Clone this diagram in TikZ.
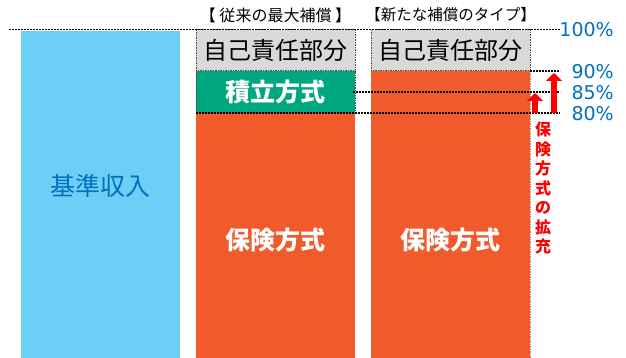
\documentclass[tikz,border=0pt]{standalone}
\usepackage{fontspec}
\setmainfont{Noto Sans CJK JP}
\newfontfamily\pctfont{DejaVu Sans}
\usetikzlibrary{arrows.meta}

\definecolor{kijunblue}{RGB}{109,207,246}
\definecolor{hokenorange}{RGB}{241,90,43}
\definecolor{tsumigreen}{RGB}{0,166,125}
\definecolor{jikogray}{RGB}{217,217,217}
\definecolor{pctblue}{RGB}{0,112,192}

\begin{document}
\begin{tikzpicture}[x=1pt,y=-1pt,
  dashline/.style={dash pattern=on 2pt off 1pt, line width=1.6pt},
  boxline/.style={dash pattern=on 1.5pt off 1pt, line width=1pt, draw=black!70},
  pct/.style={font=\pctfont\fontsize{19}{19}\selectfont, text=pctblue, anchor=east, inner sep=0pt},
  upar/.style={draw=red, -{Triangle[width=16pt,length=8pt]}}]
\useasboundingbox (0,0) rectangle (626,358);

% base income
\fill[kijunblue] (21,31) rectangle (180,358);
\node[text=pctblue, font=\fontsize{25}{25}\selectfont] (kijun) at (100,186) {基準収入};

% conventional maximum cover
\fill[hokenorange] (196,113) rectangle (355,358);
\filldraw[fill=tsumigreen, boxline] (196,71) rectangle (355,113);
\filldraw[fill=jikogray, boxline] (196,30) rectangle (355,71);
\node[font=\fontsize{24}{24}\selectfont] (jiko1) at (275.5,50.5) {自己責任部分};
\node[text=white, font=\bfseries\fontsize{25}{25}\selectfont] (tsumi) at (275.5,92) {積立方式};
\node[text=white, font=\bfseries\fontsize{25}{25}\selectfont] (hoken1) at (275.5,240) {保険方式};
\node[font=\fontsize{16}{16}\selectfont] (head1) at (275.5,15) {【 従来の最大補償 】};

% new type of cover
\fill[hokenorange] (371,71) rectangle (530,358);
\filldraw[fill=jikogray, boxline] (371,30) rectangle (530,71);
\draw[boxline, draw=black!40] (530,71) -- (530,358);
\node[font=\fontsize{24}{24}\selectfont] (jiko2) at (450.5,50.5) {自己責任部分};
\node[text=white, font=\bfseries\fontsize{25}{25}\selectfont] (hoken2) at (450.5,240) {保険方式};
\node[font=\fontsize{15.5}{15.5}\selectfont] (head2) at (450.5,15) {【新たな補償のタイプ】};

% levels
\coordinate (p100) at (560,29.5);
\coordinate (p90) at (560,71);
\coordinate (p85) at (560,92);
\coordinate (p80) at (560,113);
\draw[dashline] (9,29.5) -- (p100);
\draw[dashline] (530,71) -- (p90);
\draw[dashline] (353,92) -- (p85);
\draw[dashline] (196,113) -- (p80);
\node[pct] (l100) at (614,30) {100\%};
\node[pct] (l90) at (614,72) {90\%};
\node[pct] (l85) at (614,93) {85\%};
\node[pct] (l80) at (614,114) {80\%};

% expansion arrows
\coordinate (a1s) at (535,113);
\coordinate (a1e) at (535,93);
\coordinate (a2s) at (554,113);
\coordinate (a2e) at (554,73);
\draw[upar, line width=6pt] (a1s) -- (a1e);
\draw[upar, line width=6pt] (a2s) -- (a2e);
\node[text=red, align=center, font=\bfseries\fontsize{16}{19.5}\selectfont] (kakuju) at (543,188) {保\\険\\方\\式\\の\\拡\\充};
\end{tikzpicture}
\end{document}
